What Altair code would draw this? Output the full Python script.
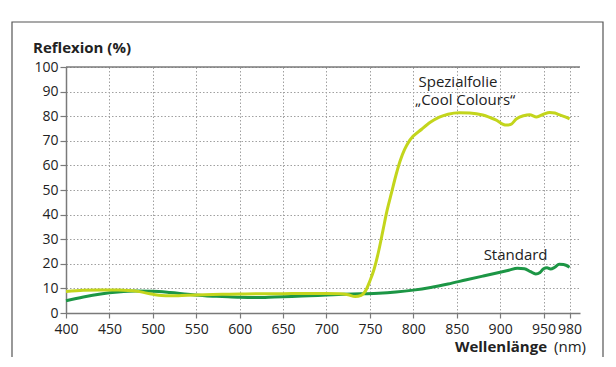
import altair as alt
import pandas as pd

# Standard curve
std_nm = [400, 420, 440, 460, 480, 500, 520, 540, 560, 580, 600, 620, 640, 660, 680,
          700, 720, 740, 760, 780, 800, 820, 840, 860, 880, 900, 910, 920, 928, 935,
          941, 946, 950, 954, 958, 963, 968, 973, 980]
std_val = [5.0, 6.5, 7.7, 8.5, 8.9, 8.8, 8.3, 7.6, 7.0, 6.7, 6.4, 6.3, 6.5, 6.7, 7.0,
           7.3, 7.6, 7.8, 8.0, 8.5, 9.3, 10.4, 11.8, 13.4, 15.0, 16.6, 17.4, 18.2, 18.0, 16.8,
           15.9, 16.5, 18.0, 18.4, 17.9, 18.6, 19.8, 19.7, 18.6]

# Spezialfolie "Cool Colours"
cool_nm = [400, 420, 440, 460, 480, 500, 510, 520, 540, 560, 580, 600, 620, 640, 660,
           680, 700, 715, 725, 733, 740, 745, 750, 755, 760, 765, 770, 775, 780, 785,
           790, 796, 810, 820, 830, 840, 853, 865, 880, 895, 907, 912, 919, 927, 934,
           942, 950, 957, 963, 968, 975, 980]
cool_val = [8.7, 9.2, 9.4, 9.3, 8.9, 7.6, 7.1, 7.0, 7.2, 7.4, 7.6, 7.7, 7.8, 7.8, 7.9,
            7.9, 7.9, 7.8, 7.4, 6.7, 7.2, 9.0, 13.0, 18.0, 25.0, 33.5, 42.0, 49.0, 56.0, 62.0,
            66.5, 70.3, 74.8, 77.6, 79.6, 80.8, 81.4, 81.3, 80.5, 78.5, 76.4, 76.6, 79.0, 80.2, 80.6,
            79.7, 80.8, 81.5, 81.3, 80.6, 79.7, 78.9]

x_ticks = [400, 450, 500, 550, 600, 650, 700, 750, 800, 850, 900, 950, 980]
y_ticks = [0, 10, 20, 30, 40, 50, 60, 70, 80, 90, 100]

series_names = ["Standard", "Cool"]
series_colors = ["#1c9645", "#c3d51c"]

df = pd.concat([
    pd.DataFrame({"nm": std_nm, "val": std_val, "series": "Standard"}),
    pd.DataFrame({"nm": cool_nm, "val": cool_val, "series": "Cool"}),
])

FONT = "Open Sans"
TXT = "#222222"
AX = "#7a7a7a"

xscale = alt.Scale(domain=[400, 992], nice=False, zero=False)
yscale = alt.Scale(domain=[0, 100], nice=False)

xaxis = alt.Axis(
    values=x_ticks, title=None, grid=True, gridDash=[1.5, 2], gridColor="#a0a0a0",
    domainColor=AX, domainWidth=1.5, tickColor=AX, tickSize=5, tickWidth=1.2,
    labelFont=FONT, labelFontSize=14, labelColor=TXT, labelPadding=4,
    labelOverlap=False, labelFlush=False)
yaxis = alt.Axis(
    values=y_ticks, title=None, grid=True, gridDash=[1.5, 2], gridColor="#a0a0a0",
    domainColor=AX, domainWidth=1.5, tickColor=AX, tickSize=6, tickWidth=1.2,
    labelFont=FONT, labelFontSize=14, labelColor=TXT, labelPadding=2,
    labelOverlap=False, labelFlush=False)

one = pd.DataFrame({"a": [0]})

frame = alt.Chart(one).mark_rect(filled=False, stroke="#555555", strokeWidth=1.2).encode(
    x=alt.value(-54), x2=alt.value(537), y=alt.value(-45), y2=alt.value(320)
)

lines = alt.Chart(df).mark_line(strokeWidth=3, interpolate="monotone").encode(
    x=alt.X("nm:Q", scale=xscale, axis=xaxis),
    y=alt.Y("val:Q", scale=yscale, axis=yaxis),
    color=alt.Color("series:N", scale=alt.Scale(domain=series_names, range=series_colors), legend=None),
    detail="series:N",
)

# top border line at the 100 % level (pixel 0 of the plot area)
top_rule = alt.Chart(one).mark_rule(color=AX, strokeWidth=1.5).encode(
    y=alt.value(0), x=alt.value(0), x2=alt.value(514)
)

ann = pd.DataFrame({
    "nm": [806, 802, 881],
    "val": [92.0, 84.5, 21.5],
    "label": ["Spezialfolie", "„Cool Colours“", "Standard"],
})
ann_text = alt.Chart(ann).mark_text(
    align="left", baseline="alphabetic", font=FONT, fontSize=15, color=TXT
).encode(
    x=alt.X("nm:Q", scale=xscale, axis=xaxis),
    y=alt.Y("val:Q", scale=yscale, axis=yaxis),
    text="label:N",
)

ytitle = alt.Chart(one).mark_text(
    text="Reflexion (%)", align="left", baseline="alphabetic", font=FONT,
    fontSize=15, fontWeight="bold", color=TXT
).encode(x=alt.value(-33), y=alt.value(-14))

xtitle1 = alt.Chart(one).mark_text(
    text="Wellenlänge", align="right", baseline="alphabetic", font=FONT,
    fontSize=15, fontWeight="bold", color=TXT
).encode(x=alt.value(481), y=alt.value(285))

xtitle2 = alt.Chart(one).mark_text(
    text="(nm)", align="right", baseline="alphabetic", font=FONT,
    fontSize=15, color=TXT
).encode(x=alt.value(520), y=alt.value(285))

chart = alt.layer(frame, lines, top_rule, ann_text, ytitle, xtitle1, xtitle2).properties(
    width=514, height=246,
    autosize=alt.AutoSizeParams(type="none"),
    padding={"left": 58, "top": 59, "right": 28, "bottom": 44},
    background="white",
).configure_view(stroke=None)

chart.save("out.html", embed_options={"renderer": "svg", "actions": False})
